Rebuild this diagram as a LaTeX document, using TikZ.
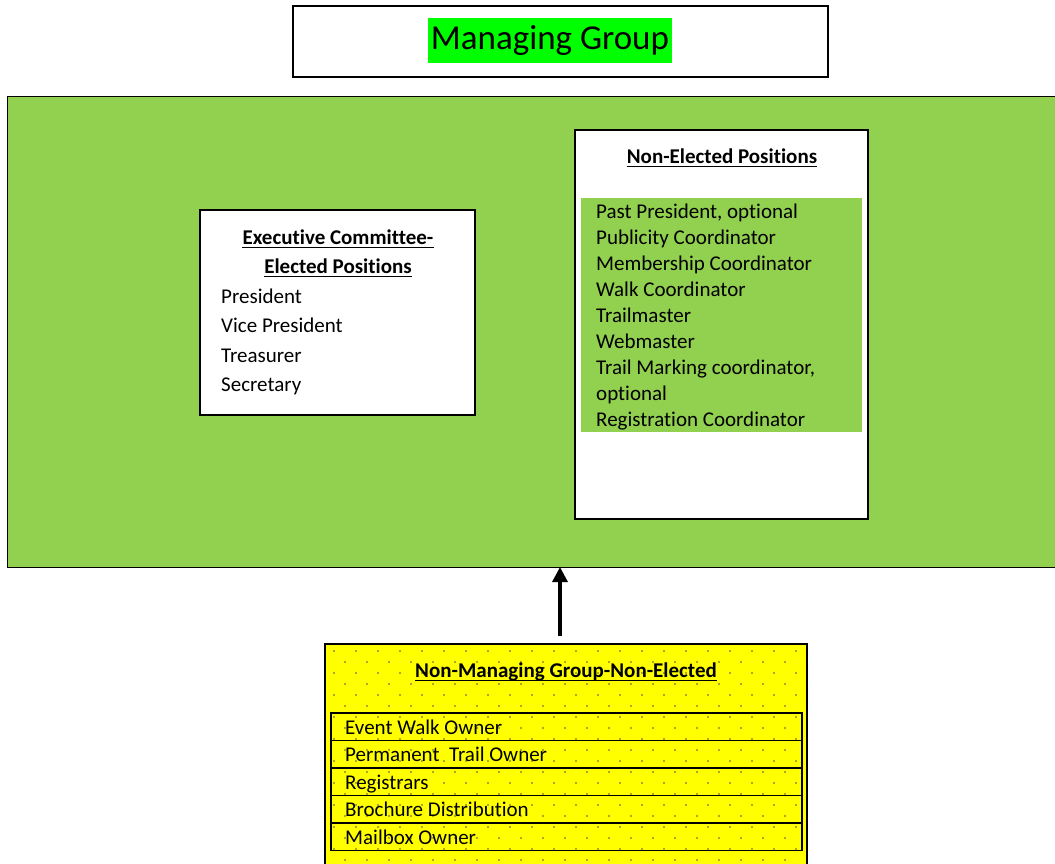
\documentclass[tikz,border=0pt]{standalone}
\usepackage{fontspec}
\setmainfont[Ligatures={NoCommon}]{Carlito}
\usetikzlibrary{arrows.meta}
\definecolor{mgreen}{HTML}{92D050}
\definecolor{hl}{HTML}{00FF00}
\definecolor{ybox}{HTML}{FFFF00}
\definecolor{dotc}{HTML}{8E8A3A}
\begin{document}
\begin{tikzpicture}[x=1pt,y=-1pt,
  box/.style={draw=black, line width=1.5pt, outer sep=0pt, inner sep=0pt, anchor=north west},
  txt/.style={inner sep=0pt, anchor=base west, font=\fontsize{21}{25}\selectfont},
  hdr/.style={inner sep=0pt, anchor=base, font=\fontsize{21}{25}\selectfont\bfseries},
  uline/.style={line width=1.5pt},
  arr/.style={line width=3.2pt, -{Triangle[length=15pt,width=15pt]}}]
\useasboundingbox (0,0) rectangle (1055,863);
\clip (0,0) rectangle (1055,863);
\fill[white] (0,0) rectangle (1055,863);
% top title box
\node[box, minimum width=535, minimum height=71] (mg) at (293,6) {};
\node[fill=hl, inner xsep=3pt, inner ysep=0pt, minimum height=45, font=\fontsize{35}{40}\selectfont] (mgt) at (550,40.5) {Managing Group};
% big green group
\node[box, line width=1pt, fill=mgreen, minimum width=1060, minimum height=471] (grp) at (7,96) {};
% executive committee box
\node[box, fill=white, minimum width=275, minimum height=205] (ex) at (200,210) {};
\node[hdr] (exh1) at (338,244) {Executive Committee-};
\node[hdr] (exh2) at (338,273) {Elected Positions};
\draw[uline] ([yshift=-3.5pt]exh1.base west) -- ([yshift=-3.5pt]exh1.base east);
\draw[uline] ([yshift=-3.5pt]exh2.base west) -- ([yshift=-3.5pt]exh2.base east);
\node[txt] (e1) at (221,303) {President};
\node[txt] (e2) at (221,332) {Vice President};
\node[txt] (e3) at (221,362) {Treasurer};
\node[txt] (e4) at (221,391) {Secretary};
% non-elected box
\node[box, fill=white, minimum width=293, minimum height=389] (ne) at (575,130) {};
\node[hdr] (neh) at (722,163) {Non-Elected Positions};
\draw[uline] ([yshift=-3.5pt]neh.base west) -- ([yshift=-3.5pt]neh.base east);
\node[fill=mgreen, inner sep=0pt, outer sep=0pt, anchor=north west, minimum width=281, minimum height=234] (nel) at (581,198) {};
\node[txt] (n1) at (596,218) {Past President, optional};
\node[txt] (n2) at (596,244) {Publicity Coordinator};
\node[txt] (n3) at (596,270) {Membership Coordinator};
\node[txt] (n4) at (596,296) {Walk Coordinator};
\node[txt] (n5) at (596,322) {Trailmaster};
\node[txt] (n6) at (596,348) {Webmaster};
\node[txt] (n7) at (596,374) {Trail Marking coordinator,};
\node[txt] (n8) at (596,400) {optional};
\node[txt] (n9) at (596,426) {Registration Coordinator};
% yellow non-managing group
\node[box, fill=ybox, minimum width=482, minimum height=230] (yb) at (325,644) {};
\begin{scope}
\clip (326,645) rectangle (806,863);
\foreach \j in {0,...,20} {
  \pgfmathsetmacro{\yy}{651+11*\j}
  \pgfmathsetmacro{\off}{mod(\j,2)*11}
  \foreach \i in {0,...,22} {
    \fill[dotc] ({334+\off+22*\i},\yy) circle (1.1pt);
  }
}
\end{scope}
\node[hdr] (ybh) at (566,677) {Non-Managing Group-Non-Elected};
\draw[uline] ([yshift=-3.5pt]ybh.base west) -- ([yshift=-3.5pt]ybh.base east);
\node[box, minimum width=471, minimum height=27.5] (r1) at (331,713) {};
\node[box, minimum width=471, minimum height=27.5] (r2) at (331,740.5) {};
\node[box, minimum width=471, minimum height=27.5] (r3) at (331,768) {};
\node[box, minimum width=471, minimum height=27.5] (r4) at (331,795.5) {};
\node[box, minimum width=471, minimum height=27.5] (r5) at (331,823) {};
\node[txt] (y1) at (345,734) {Event Walk Owner};
\node[txt] (y2) at (345,761.5) {Permanent\ \ Trail Owner};
\node[txt] (y3) at (345,789) {Registrars};
\node[txt] (y4) at (345,816.5) {Brochure Distribution};
\node[txt] (y5) at (345,844) {Mailbox Owner};
% arrow
\coordinate (as) at (560,636);
\draw[arr] (as) -- (as |- grp.south);
\end{tikzpicture}
\end{document}
